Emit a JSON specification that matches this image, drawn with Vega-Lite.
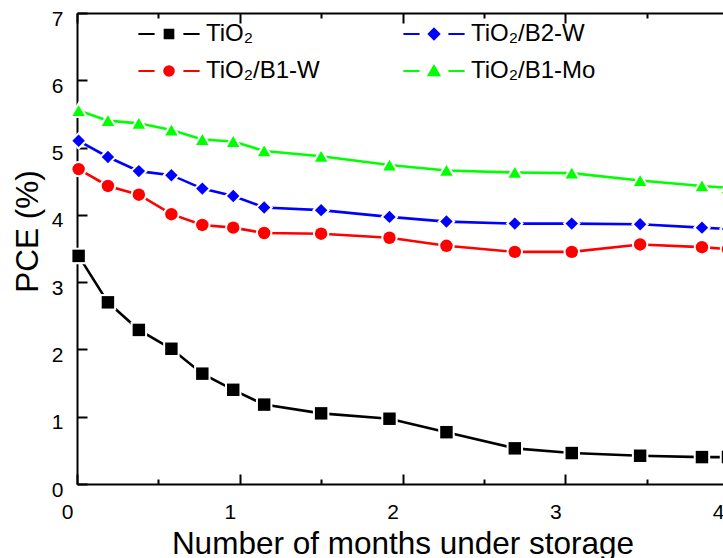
{
  "$schema": "https://vega.github.io/schema/vega-lite/v6.json",
  "width": 651,
  "height": 471,
  "autosize": {"type": "none"},
  "padding": {"left": 77, "top": 13, "right": 0, "bottom": 74},
  "config": {
    "font": "Liberation Sans",
    "view": {"stroke": null},
    "axis": {
      "grid": false,
      "domainColor": "#000000",
      "domainWidth": 2,
      "tickColor": "#000000",
      "tickWidth": 2,
      "labelColor": "#000000",
      "titleColor": "#000000",
      "labelFontSize": 21,
      "titleFontSize": 31.5,
      "titleFontWeight": "normal",
      "labelFlush": false,
      "labelBound": false,
      "labelOverlap": false
    },
    "legend": {
      "orient": "none",
      "legendX": 79,
      "legendY": 8,
      "columns": 2,
      "columnPadding": 79,
      "rowPadding": 12,
      "padding": 0,
      "symbolSize": 576,
      "symbolStrokeWidth": 2,
      "symbolOpacity": 1,
      "labelFontSize": 24,
      "labelColor": "#000000",
      "labelOffset": 24,
      "labelLimit": 300
    }
  },
  "data": {
    "values": [
      {"series": "TiO₂", "month": 0.01, "pce": 3.39},
      {"series": "TiO₂", "month": 0.19, "pce": 2.70},
      {"series": "TiO₂", "month": 0.38, "pce": 2.29},
      {"series": "TiO₂", "month": 0.58, "pce": 2.01},
      {"series": "TiO₂", "month": 0.77, "pce": 1.64},
      {"series": "TiO₂", "month": 0.96, "pce": 1.40},
      {"series": "TiO₂", "month": 1.15, "pce": 1.18},
      {"series": "TiO₂", "month": 1.50, "pce": 1.05},
      {"series": "TiO₂", "month": 1.92, "pce": 0.97},
      {"series": "TiO₂", "month": 2.27, "pce": 0.77},
      {"series": "TiO₂", "month": 2.69, "pce": 0.53},
      {"series": "TiO₂", "month": 3.04, "pce": 0.46},
      {"series": "TiO₂", "month": 3.46, "pce": 0.42},
      {"series": "TiO₂", "month": 3.84, "pce": 0.40},
      {"series": "TiO₂", "month": 4.00, "pce": 0.40},
      {"series": "TiO₂/B2-W", "month": 0.01, "pce": 5.10},
      {"series": "TiO₂/B2-W", "month": 0.19, "pce": 4.86},
      {"series": "TiO₂/B2-W", "month": 0.38, "pce": 4.65},
      {"series": "TiO₂/B2-W", "month": 0.58, "pce": 4.59},
      {"series": "TiO₂/B2-W", "month": 0.77, "pce": 4.39},
      {"series": "TiO₂/B2-W", "month": 0.96, "pce": 4.28},
      {"series": "TiO₂/B2-W", "month": 1.15, "pce": 4.11},
      {"series": "TiO₂/B2-W", "month": 1.50, "pce": 4.07},
      {"series": "TiO₂/B2-W", "month": 1.92, "pce": 3.97},
      {"series": "TiO₂/B2-W", "month": 2.27, "pce": 3.90},
      {"series": "TiO₂/B2-W", "month": 2.69, "pce": 3.87},
      {"series": "TiO₂/B2-W", "month": 3.04, "pce": 3.87},
      {"series": "TiO₂/B2-W", "month": 3.46, "pce": 3.86},
      {"series": "TiO₂/B2-W", "month": 3.84, "pce": 3.81},
      {"series": "TiO₂/B2-W", "month": 4.00, "pce": 3.79},
      {"series": "TiO₂/B1-W", "month": 0.01, "pce": 4.68},
      {"series": "TiO₂/B1-W", "month": 0.19, "pce": 4.43},
      {"series": "TiO₂/B1-W", "month": 0.38, "pce": 4.30},
      {"series": "TiO₂/B1-W", "month": 0.58, "pce": 4.01},
      {"series": "TiO₂/B1-W", "month": 0.77, "pce": 3.85},
      {"series": "TiO₂/B1-W", "month": 0.96, "pce": 3.81},
      {"series": "TiO₂/B1-W", "month": 1.15, "pce": 3.73},
      {"series": "TiO₂/B1-W", "month": 1.50, "pce": 3.72},
      {"series": "TiO₂/B1-W", "month": 1.92, "pce": 3.66},
      {"series": "TiO₂/B1-W", "month": 2.27, "pce": 3.54},
      {"series": "TiO₂/B1-W", "month": 2.69, "pce": 3.45},
      {"series": "TiO₂/B1-W", "month": 3.04, "pce": 3.45},
      {"series": "TiO₂/B1-W", "month": 3.46, "pce": 3.56},
      {"series": "TiO₂/B1-W", "month": 3.84, "pce": 3.52},
      {"series": "TiO₂/B1-W", "month": 4.00, "pce": 3.49},
      {"series": "TiO₂/B1-Mo", "month": 0.01, "pce": 5.55},
      {"series": "TiO₂/B1-Mo", "month": 0.19, "pce": 5.40},
      {"series": "TiO₂/B1-Mo", "month": 0.38, "pce": 5.36},
      {"series": "TiO₂/B1-Mo", "month": 0.58, "pce": 5.26},
      {"series": "TiO₂/B1-Mo", "month": 0.77, "pce": 5.12},
      {"series": "TiO₂/B1-Mo", "month": 0.96, "pce": 5.09},
      {"series": "TiO₂/B1-Mo", "month": 1.15, "pce": 4.95},
      {"series": "TiO₂/B1-Mo", "month": 1.50, "pce": 4.87},
      {"series": "TiO₂/B1-Mo", "month": 1.92, "pce": 4.74},
      {"series": "TiO₂/B1-Mo", "month": 2.27, "pce": 4.66},
      {"series": "TiO₂/B1-Mo", "month": 2.69, "pce": 4.63},
      {"series": "TiO₂/B1-Mo", "month": 3.04, "pce": 4.62},
      {"series": "TiO₂/B1-Mo", "month": 3.46, "pce": 4.51},
      {"series": "TiO₂/B1-Mo", "month": 3.84, "pce": 4.43},
      {"series": "TiO₂/B1-Mo", "month": 4.00, "pce": 4.40}
    ]
  },
  "resolve": {
    "axis": {"x": "independent"},
    "scale": {"color": "independent", "shape": "independent", "fill": "independent", "stroke": "independent"}
  },
  "layer": [
    {
      "mark": {"type": "line", "strokeWidth": 2.6, "clip": false},
      "encoding": {
        "x": {
          "field": "month", "type": "quantitative",
          "scale": {"domain": [0, 4], "nice": false, "zero": false},
          "axis": {
            "orient": "bottom",
            "title": "Number of months under storage",
            "values": [0, 0.5, 1, 1.5, 2, 2.5, 3, 3.5, 4],
            "labelExpr": "datum.value % 1 === 0 ? format(datum.value, 'd') : ''",
            "tickSize": {"condition": {"test": "datum.value % 1 !== 0", "value": -5}, "value": -10},
            "labelPadding": 27,
            "labelOffset": -10,
            "titleBaseline": "alphabetic",
            "titleY": 69
          }
        },
        "y": {
          "field": "pce", "type": "quantitative",
          "scale": {"domain": [0, 7], "nice": false},
          "axis": {
            "title": "PCE (%)",
            "values": [0, 0.5, 1, 1.5, 2, 2.5, 3, 3.5, 4, 4.5, 5, 5.5, 6, 6.5, 7],
            "labelExpr": "datum.value % 1 === 0 ? format(datum.value, 'd') : ''",
            "tickSize": {"condition": {"test": "datum.value % 1 !== 0", "value": -5}, "value": -10},
            "labelPadding": 24,
            "labelOffset": 6,
            "titleAngle": -90,
            "titleBaseline": "bottom",
            "titleAlign": "center",
            "titleX": -33,
            "titleY": 218
          }
        },
        "color": {
          "field": "series", "type": "nominal",
          "scale": {
            "domain": ["TiO₂", "TiO₂/B1-W", "TiO₂/B2-W", "TiO₂/B1-Mo"],
            "range": ["#000000", "#FF0000", "#0000FF", "#00FF00"]
          },
          "legend": null
        },
        "detail": {"field": "series"}
      }
    },
    {
      "mark": {"type": "point", "filled": true, "fill": "#FFFFFF", "stroke": "#FFFFFF", "strokeWidth": 4, "size": 155, "opacity": 1, "clip": false},
      "encoding": {
        "x": {
          "field": "month", "type": "quantitative",
          "axis": {
            "orient": "top",
            "title": null,
            "labels": false,
            "values": [0, 0.5, 1, 1.5, 2, 2.5, 3, 3.5, 4],
            "tickSize": {"condition": {"test": "datum.value % 1 !== 0", "value": -5}, "value": -10}
          }
        },
        "y": {"field": "pce", "type": "quantitative"},
        "shape": {
          "field": "series", "type": "nominal",
          "scale": {
            "domain": ["TiO₂", "TiO₂/B1-W", "TiO₂/B2-W", "TiO₂/B1-Mo"],
            "range": ["square", "circle", "diamond", "triangle-up"]
          },
          "legend": null
        }
      }
    },
    {
      "mark": {"type": "point", "filled": true, "size": 155, "opacity": 1, "clip": false},
      "encoding": {
        "x": {"field": "month", "type": "quantitative", "axis": null},
        "y": {"field": "pce", "type": "quantitative"},
        "shape": {
          "field": "series", "type": "nominal",
          "scale": {
            "domain": ["TiO₂", "TiO₂/B1-W", "TiO₂/B2-W", "TiO₂/B1-Mo"],
            "range": ["square", "circle", "diamond", "triangle-up"]
          },
          "legend": null
        },
        "color": {
          "field": "series", "type": "nominal",
          "scale": {
            "domain": ["TiO₂", "TiO₂/B1-W", "TiO₂/B2-W", "TiO₂/B1-Mo"],
            "range": ["#000000", "#FF0000", "#0000FF", "#00FF00"]
          },
          "legend": null
        }
      }
    },
    {
      "mark": {"type": "point", "filled": true, "size": 155, "opacity": 0, "clip": false},
      "encoding": {
        "x": {"field": "month", "type": "quantitative", "axis": null},
        "y": {"field": "pce", "type": "quantitative"},
        "shape": {
          "field": "series", "type": "nominal",
          "scale": {
            "domain": ["TiO₂", "TiO₂/B1-W", "TiO₂/B2-W", "TiO₂/B1-Mo"],
            "range": [
              "M-2.55,0H-1.2M1.2,0H2.55M-0.36,-0.36H0.36V0.36H-0.36Z",
              "M-2.55,0H-1.2M1.2,0H2.55M-0.4,0A0.4,0.4 0 1,0 0.4,0A0.4,0.4 0 1,0 -0.4,0Z",
              "M-2.55,0H-1.2M1.2,0H2.55M0,-0.44L0.44,0L0,0.44L-0.44,0Z",
              "M-2.55,0H-1.2M1.2,0H2.55M0,-0.42L0.45,0.36L-0.45,0.36Z"
            ]
          },
          "legend": {"title": null, "orient": "none", "legendX": 79, "legendY": 8, "columns": 2, "columnPadding": 79, "rowPadding": 12, "padding": 0, "symbolSize": 576, "symbolStrokeWidth": 2, "symbolOpacity": 1, "labelFontSize": 24, "labelOffset": 24, "labelLimit": 300}
        },
        "fill": {
          "field": "series", "type": "nominal",
          "scale": {
            "domain": ["TiO₂", "TiO₂/B1-W", "TiO₂/B2-W", "TiO₂/B1-Mo"],
            "range": ["#000000", "#FF0000", "#0000FF", "#00FF00"]
          },
          "legend": {"title": null, "orient": "none", "legendX": 79, "legendY": 8, "columns": 2, "columnPadding": 79, "rowPadding": 12, "padding": 0, "symbolSize": 576, "symbolStrokeWidth": 2, "symbolOpacity": 1, "labelFontSize": 24, "labelOffset": 24, "labelLimit": 300}
        },
        "stroke": {
          "field": "series", "type": "nominal",
          "scale": {
            "domain": ["TiO₂", "TiO₂/B1-W", "TiO₂/B2-W", "TiO₂/B1-Mo"],
            "range": ["#000000", "#FF0000", "#0000FF", "#00FF00"]
          },
          "legend": {"title": null, "orient": "none", "legendX": 79, "legendY": 8, "columns": 2, "columnPadding": 79, "rowPadding": 12, "padding": 0, "symbolSize": 576, "symbolStrokeWidth": 2, "symbolOpacity": 1, "labelFontSize": 24, "labelOffset": 24, "labelLimit": 300}
        }
      }
    }
  ]
}
